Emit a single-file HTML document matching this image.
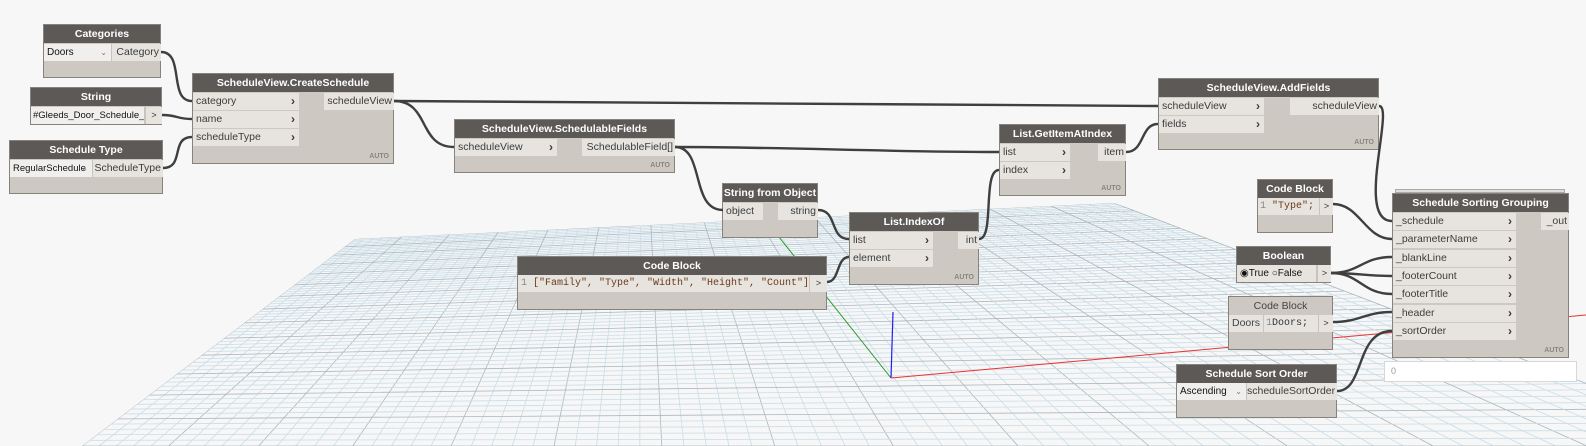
<!DOCTYPE html>
<html style="width:1586px;height:446px;overflow:hidden"><head><meta charset="utf-8">
<style>
body{margin:0;width:1586px;height:446px;background:#f7f7f7;overflow:hidden;position:relative;font-family:"Liberation Sans",sans-serif;}
svg{position:absolute;left:0;top:0}
.n{position:absolute;background:#cdc9c2;border:1px solid #86827c;box-sizing:border-box}
.h{position:absolute;left:0;right:0;top:0;height:18px;background:#5c5956;color:#fff;font-weight:bold;font-size:10.5px;line-height:18px;text-align:center;white-space:nowrap;overflow:hidden}
.hl{background:#cdc9c2;color:#444;font-weight:normal;border-bottom:1px solid #b6b2ab}
.r{position:absolute;background:#e7e4df;height:17px;line-height:17px;font-size:10.5px;color:#3c3c3c;padding-left:3px;box-sizing:border-box;white-space:nowrap;overflow:hidden}
.r b{position:absolute;right:4px;top:0;color:#3a3a3a;font-size:12px}
.o{position:absolute;background:#e7e4df;height:17px;line-height:17px;font-size:10.5px;color:#3c3c3c;padding-right:2px;text-align:right;box-sizing:border-box;white-space:nowrap;overflow:hidden}
.a{position:absolute;right:4px;bottom:3px;font-size:7px;font-weight:bold;color:#8a8680}
.mono{font-family:"Liberation Mono",monospace;font-size:10px}
.sel{position:absolute;background:#f0efed;height:17px;line-height:17px;font-size:10px;color:#111;padding-left:3px;box-sizing:border-box;border-right:1px solid #c8c4bd;white-space:nowrap;overflow:hidden}
.sel i{position:absolute;right:4px;font-style:normal;font-size:8px;color:#777}
.arr{position:absolute;background:#e7e4df;height:17px;line-height:17px;font-size:9px;text-align:center;color:#333;border-left:1px solid #c8c4bd;box-sizing:border-box}
</style></head><body>
<svg width="1586" height="446" id="g">
<defs><clipPath id="cp"><polygon points="82,446 355,239 1114,203 1586,365 1586,446"/></clipPath></defs>
<g id="grid" clip-path="url(#cp)"></g>
<line x1="891" y1="378" x2="775" y2="232" stroke="#2a9a2a" stroke-width="1"/>
<line x1="891" y1="378" x2="893" y2="312" stroke="#2020ee" stroke-width="1.2"/>
<line x1="891" y1="378" x2="1586" y2="315" stroke="#ee3030" stroke-width="1"/>
</svg>

<div class="n" style="left:43px;top:24px;width:118px;height:54px"><div class="h">Categories</div>
<div class="sel" style="left:0;top:19px;width:68px">Doors<i>⌄</i></div>
<div class="o" style="left:68px;top:19px;width:49px">Category</div></div>
<div class="n" style="left:30px;top:87px;width:132px;height:38px"><div class="h">String</div>
<div class="sel" style="left:0;top:19px;width:114px;font-size:9.5px;padding-left:2px">#Gleeds_Door_Schedule_EY</div>
<div class="arr" style="left:114px;top:19px;width:17px">&gt;</div></div>
<div class="n" style="left:9px;top:140px;width:154px;height:54px"><div class="h">Schedule Type</div>
<div class="sel" style="left:0;top:19px;width:83px;font-size:9.5px">RegularSchedule<i>⌄</i></div>
<div class="o" style="left:83px;top:19px;width:70px">ScheduleType</div></div>
<div class="n" style="left:192px;top:73px;width:202px;height:91px"><div class="h">ScheduleView.CreateSchedule</div>
<div class="r" style="left:0;top:19px;width:106px">category<b>›</b></div>
<div class="r" style="left:0;top:37px;width:106px">name<b>›</b></div>
<div class="r" style="left:0;top:55px;width:106px">scheduleType<b>›</b></div>
<div class="o" style="left:131px;top:19px;width:70px">scheduleView</div><div class="a">AUTO</div></div>
<div class="n" style="left:454px;top:119px;width:221px;height:54px"><div class="h">ScheduleView.SchedulableFields</div>
<div class="r" style="left:0;top:19px;width:102px">scheduleView<b>›</b></div>
<div class="o" style="left:127px;top:19px;width:93px">SchedulableField[]</div><div class="a">AUTO</div></div>
<div class="n" style="left:722px;top:183px;width:96px;height:55px"><div class="h">String from Object</div>
<div class="r" style="left:0;top:19px;width:40px">object</div>
<div class="o" style="left:55px;top:19px;width:40px">string</div></div>
<div class="n" style="left:849px;top:212px;width:130px;height:73px"><div class="h">List.IndexOf</div>
<div class="r" style="left:0;top:19px;width:83px">list<b>›</b></div>
<div class="r" style="left:0;top:37px;width:83px">element<b>›</b></div>
<div class="o" style="left:108px;top:19px;width:21px">int</div><div class="a">AUTO</div></div>
<div class="n" style="left:517px;top:256px;width:310px;height:54px"><div class="h">Code Block</div>
<div class="r mono" style="left:0;top:18px;width:291px;color:#6b3a1a"><span style="color:#888">1</span> ["Family", "Type", "Width", "Height", "Count"];</div>
<div class="arr" style="left:291px;top:18px;width:18px">&gt;</div></div>
<div class="n" style="left:999px;top:124px;width:127px;height:72px"><div class="h">List.GetItemAtIndex</div>
<div class="r" style="left:0;top:19px;width:70px">list<b>›</b></div>
<div class="r" style="left:0;top:37px;width:70px">index<b>›</b></div>
<div class="o" style="left:98px;top:19px;width:28px">item</div><div class="a">AUTO</div></div>
<div class="n" style="left:1158px;top:78px;width:221px;height:72px"><div class="h">ScheduleView.AddFields</div>
<div class="r" style="left:0;top:19px;width:105px">scheduleView<b>›</b></div>
<div class="r" style="left:0;top:37px;width:105px">fields<b>›</b></div>
<div class="o" style="left:131px;top:19px;width:89px">scheduleView</div><div class="a">AUTO</div></div>
<div class="n" style="left:1257px;top:179px;width:76px;height:54px"><div class="h">Code Block</div>
<div class="r mono" style="left:0;top:18px;width:61px;color:#6b3a1a;padding-left:2px"><span style="color:#888">1</span> "Type";</div>
<div class="arr" style="left:61px;top:18px;width:14px">&gt;</div></div>
<div class="n" style="left:1236px;top:246px;width:95px;height:37px"><div class="h">Boolean</div>
<div class="sel" style="left:0;top:18px;width:80px;font-size:10px;background:#e7e4df">◉True ○False</div>
<div class="arr" style="left:80px;top:18px;width:14px">&gt;</div></div>
<div class="n" style="left:1228px;top:296px;width:105px;height:54px"><div class="h hl">Code Block</div>
<div class="r" style="left:0;top:18px;width:34px;color:#444">Doors</div>
<div class="r mono" style="left:34px;top:18px;width:55px;color:#333;border-left:1px solid #c8c4bd;padding-left:2px"><span style="color:#888">1</span>Doors;</div>
<div class="arr" style="left:89px;top:18px;width:15px">&gt;</div></div>
<div class="n" style="left:1176px;top:364px;width:161px;height:54px"><div class="h">Schedule Sort Order</div>
<div class="sel" style="left:0;top:18px;width:70px">Ascending<i>⌄</i></div>
<div class="o" style="left:70px;top:18px;width:90px">scheduleSortOrder</div></div>
<div style="position:absolute;left:1395px;top:189px;width:170px;height:4px;background:#e0ddd8;border:1px solid #aaa;box-sizing:border-box"></div>
<div class="n" style="left:1392px;top:193px;width:177px;height:165px"><div class="h">Schedule Sorting Grouping</div>
<div class="r" style="left:0;top:19px;width:123px">_schedule<b>›</b></div>
<div class="r" style="left:0;top:37px;width:123px">_parameterName<b>›</b></div>
<div class="r" style="left:0;top:56px;width:123px">_blankLine<b>›</b></div>
<div class="r" style="left:0;top:74px;width:123px">_footerCount<b>›</b></div>
<div class="r" style="left:0;top:92px;width:123px">_footerTitle<b>›</b></div>
<div class="r" style="left:0;top:111px;width:123px">_header<b>›</b></div>
<div class="r" style="left:0;top:129px;width:123px">_sortOrder<b>›</b></div>
<div class="o" style="left:148px;top:19px;width:28px">_out</div><div class="a">AUTO</div></div>
<div style="position:absolute;left:1384px;top:361px;width:193px;height:21px;background:#fff;border:1px solid #d8d8d8;box-sizing:border-box;font-size:9px;color:#999;line-height:19px;padding-left:6px">0</div>

<svg width="1586" height="446" style="pointer-events:none">
<g fill="none" stroke="#3f3f3f" stroke-width="2.4">
<path d="M161,52 C185,52 168,101 192,101"/>
<path d="M162,115 C178,115 176,119 192,119"/>
<path d="M163,168 C185,168 170,137 192,137"/>
<path d="M394,101 C600,101 950,106 1158,106"/>
<path d="M394,101 C430,101 418,147 454,147"/>
<path d="M675,147 C780,147 890,152 999,152"/>
<path d="M675,147 C705,147 690,210 723,210"/>
<path d="M818,210 C838,210 829,239 849,239"/>
<path d="M827,282 C840,282 836,257 849,257"/>
<path d="M979,239 C995,239 982,170 999,170"/>
<path d="M1126,152 C1145,152 1140,124 1158,124"/>
<path d="M1379,106 C1395,106 1355,221 1392,221"/>
<path d="M1333,204 C1360,204 1365,239 1392,239"/>
<path d="M1331,273 C1360,273 1362,257 1392,257"/>
<path d="M1331,273 C1360,273 1362,276 1392,276"/>
<path d="M1331,273 C1360,273 1362,294 1392,294"/>
<path d="M1333,322 C1360,322 1365,312 1392,312"/>
<path d="M1337,391 C1365,391 1355,331 1392,331"/>
</g></svg>
<script>
(function(){
var A=[355,239],B=[1114,203],C=[1750,446],D=[82,446];
var x0=A[0],y0=A[1],x1=B[0],y1=B[1],x2=C[0],y2=C[1],x3=D[0],y3=D[1];
var dx1=x1-x2,dx2=x3-x2,dy1=y1-y2,dy2=y3-y2,sx=x0-x1+x2-x3,sy=y0-y1+y2-y3;
var den=dx1*dy2-dx2*dy1;
var g=(sx*dy2-dx2*sy)/den,h=(dx1*sy-sx*dy1)/den;
var a=x1-x0+g*x1,b=x3-x0+h*x3,c=x0,d=y1-y0+g*y1,e=y3-y0+h*y3,f=y0;
function P(u,v){var w=g*u+h*v+1;return [(a*u+b*v+c)/w,(d*u+e*v+f)/w];}
var N=70,s="";
for(var i=0;i<=N;i++){var t=i/N;
var p=P(t,0),q=P(t,1),r=P(0,t),z=P(1,t);
var col=(i%5==0)?"#a9b7bf":"#c9dde8";
s+='<line x1="'+p[0]+'" y1="'+p[1]+'" x2="'+q[0]+'" y2="'+q[1]+'" stroke="'+col+'" stroke-width="0.8"/>';
s+='<line x1="'+r[0]+'" y1="'+r[1]+'" x2="'+z[0]+'" y2="'+z[1]+'" stroke="'+col+'" stroke-width="0.8"/>';}
document.getElementById("grid").innerHTML=s;
})();
</script>
</body></html>
